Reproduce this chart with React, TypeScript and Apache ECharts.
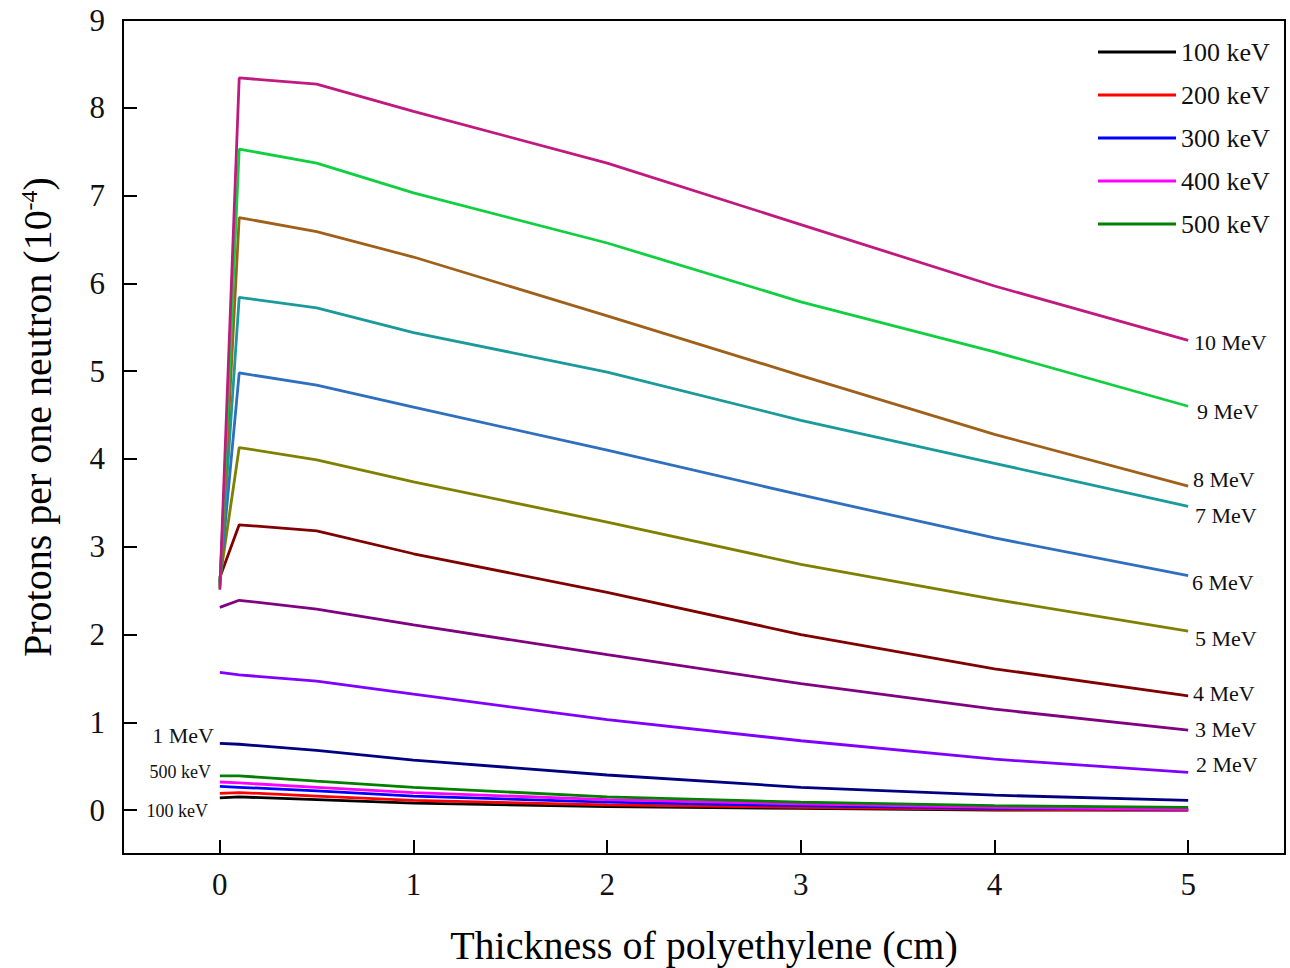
import React, { useEffect, useRef } from "react";
import * as echarts from "echarts";

const thickness = [0, 0.1, 0.5, 1, 2, 3, 4, 5];

const seriesNames = [
  "100 keV", "200 keV", "300 keV", "400 keV", "500 keV",
  "1 MeV", "2 MeV", "3 MeV", "4 MeV", "5 MeV",
  "6 MeV", "7 MeV", "8 MeV", "9 MeV", "10 MeV",
];

const v100k = [0.14, 0.15, 0.12, 0.08, 0.04, 0.02, 0.0, 0.0];
const v200k = [0.19, 0.2, 0.16, 0.11, 0.06, 0.03, 0.01, 0.0];
const v300k = [0.27, 0.26, 0.22, 0.16, 0.09, 0.05, 0.02, 0.01];
const v400k = [0.32, 0.31, 0.26, 0.2, 0.12, 0.07, 0.03, 0.01];
const v500k = [0.39, 0.39, 0.33, 0.26, 0.15, 0.09, 0.05, 0.03];
const v1M = [0.76, 0.75, 0.68, 0.57, 0.4, 0.26, 0.17, 0.11];
const v2M = [1.57, 1.54, 1.47, 1.32, 1.03, 0.79, 0.58, 0.43];
const v3M = [2.31, 2.39, 2.29, 2.11, 1.77, 1.44, 1.15, 0.91];
const v4M = [2.65, 3.25, 3.18, 2.92, 2.48, 2.0, 1.61, 1.3];
const v5M = [2.62, 4.13, 3.99, 3.74, 3.28, 2.8, 2.4, 2.04];
const v6M = [2.6, 4.98, 4.84, 4.59, 4.1, 3.59, 3.1, 2.67];
const v7M = [2.58, 5.84, 5.72, 5.44, 4.99, 4.44, 3.95, 3.46];
const v8M = [2.56, 6.75, 6.59, 6.3, 5.63, 4.95, 4.28, 3.69];
const v9M = [2.53, 7.53, 7.37, 7.03, 6.46, 5.79, 5.22, 4.6];
const v10M = [2.51, 8.34, 8.27, 7.96, 7.37, 6.67, 5.97, 5.35];

const allValues = [v100k, v200k, v300k, v400k, v500k, v1M, v2M, v3M, v4M, v5M, v6M, v7M, v8M, v9M, v10M];

const colors = [
  "#000000", "#ff0000", "#0000ff", "#ff00ff", "#008000",
  "#000080", "#8000ff", "#800080", "#800000", "#808000",
  "#2f6fbf", "#1a9a9a", "#a0601a", "#10d040", "#c01a80",
];

const legendNames = ["100 keV", "200 keV", "300 keV", "400 keV", "500 keV"];
const xTicks = [0, 1, 2, 3, 4, 5];
const yTicks = [0, 1, 2, 3, 4, 5, 6, 7, 8, 9];

const FONT = "'Liberation Serif', 'DejaVu Serif', serif";

const rightLabels = [
  { text: "10 MeV", x: 1194, y: 342 },
  { text: "9 MeV", x: 1197, y: 411 },
  { text: "8 MeV", x: 1193, y: 479 },
  { text: "7 MeV", x: 1195, y: 515 },
  { text: "6 MeV", x: 1192, y: 582 },
  { text: "5 MeV", x: 1195, y: 638 },
  { text: "4 MeV", x: 1193, y: 693 },
  { text: "3 MeV", x: 1195, y: 729 },
  { text: "2 MeV", x: 1196, y: 764 },
];

const leftLabels = [
  { text: "1 MeV", x: 214, y: 735, size: 22 },
  { text: "500 keV", x: 211, y: 772, size: 18 },
  { text: "100 keV", x: 208, y: 811, size: 18 },
];

export default function App() {
  const ref = useRef<HTMLDivElement>(null);

  useEffect(() => {
    if (!ref.current) return;
    const chart = echarts.init(ref.current, undefined, { renderer: "svg" });

    const series = seriesNames.map((name, i) => ({
      name,
      type: "line",
      data: thickness.map((t, j) => [t, allValues[i][j]]),
      showSymbol: false,
      symbol: "none",
      lineStyle: { color: colors[i], width: 2.8 },
      itemStyle: { color: colors[i] },
      z: 2,
    }));

    const graphic: any[] = [];
    rightLabels.forEach((l) => {
      graphic.push({
        type: "text",
        x: l.x,
        y: l.y,
        style: { text: l.text, font: `22px ${FONT}`, fill: "#111", align: "left", verticalAlign: "middle" },
      });
    });
    leftLabels.forEach((l) => {
      graphic.push({
        type: "text",
        x: l.x,
        y: l.y,
        style: {
          text: l.text,
          font: `${l.size}px ${FONT}`,
          fill: "#111",
          align: "right",
          verticalAlign: "middle",
        },
      });
    });
    graphic.push({
      type: "text",
      x: 37,
      y: 417,
      rotation: Math.PI / 2,
      style: {
        text: "{a|Protons per one neutron (10}{s|-4}{a|)}",
        align: "center",
        verticalAlign: "middle",
        fill: "#000",
        rich: {
          a: { fontFamily: FONT, fontSize: 40, fill: "#000", color: "#000" },
          s: { fontFamily: FONT, fontSize: 24, fill: "#000", color: "#000", verticalAlign: "top", padding: [0, 0, 16, 0] },
        },
      },
    });

    chart.setOption({
      animation: false,
      backgroundColor: "#ffffff",
      grid: {
        left: 123,
        top: 20,
        right: 5,
        bottom: 114,
        show: true,
        borderColor: "#000",
        borderWidth: 2,
        containLabel: false,
        outerBoundsMode: "none",
      },
      legend: {
        data: legendNames,
        orient: "vertical",
        left: 1093,
        top: 34,
        itemWidth: 78,
        itemHeight: 3,
        itemGap: 17,
        icon: "rect",
        textStyle: { fontFamily: FONT, fontSize: 26, color: "#111", lineHeight: 26 },
      },
      xAxis: {
        type: "value",
        min: -0.5,
        max: 5.5,
        name: "Thickness of polyethylene (cm)",
        nameLocation: "middle",
        nameGap: 71,
        nameTextStyle: { fontFamily: FONT, fontSize: 40, color: "#000" },
        axisLine: { show: true, onZero: false, lineStyle: { color: "#000", width: 2 } },
        axisTick: { show: true, inside: true, length: 14, customValues: xTicks, lineStyle: { color: "#000", width: 2 } },
        axisLabel: { customValues: xTicks, fontFamily: FONT, fontSize: 31, color: "#111", margin: 15 },
        splitLine: { show: false },
      },
      yAxis: {
        type: "value",
        min: -0.5,
        max: 9,
        axisLine: { show: true, onZero: false, lineStyle: { color: "#000", width: 2 } },
        axisTick: { show: true, inside: true, length: 14, customValues: yTicks, lineStyle: { color: "#000", width: 2 } },
        axisLabel: { customValues: yTicks, fontFamily: FONT, fontSize: 31, color: "#111", margin: 18 },
        splitLine: { show: false },
      },
      graphic,
      series,
    });

    return () => chart.dispose();
  }, []);

  return (
    <div
      ref={ref}
      style={{ position: "fixed", left: 0, top: 0, width: 1290, height: 968, background: "#fff" }}
    />
  );
}
